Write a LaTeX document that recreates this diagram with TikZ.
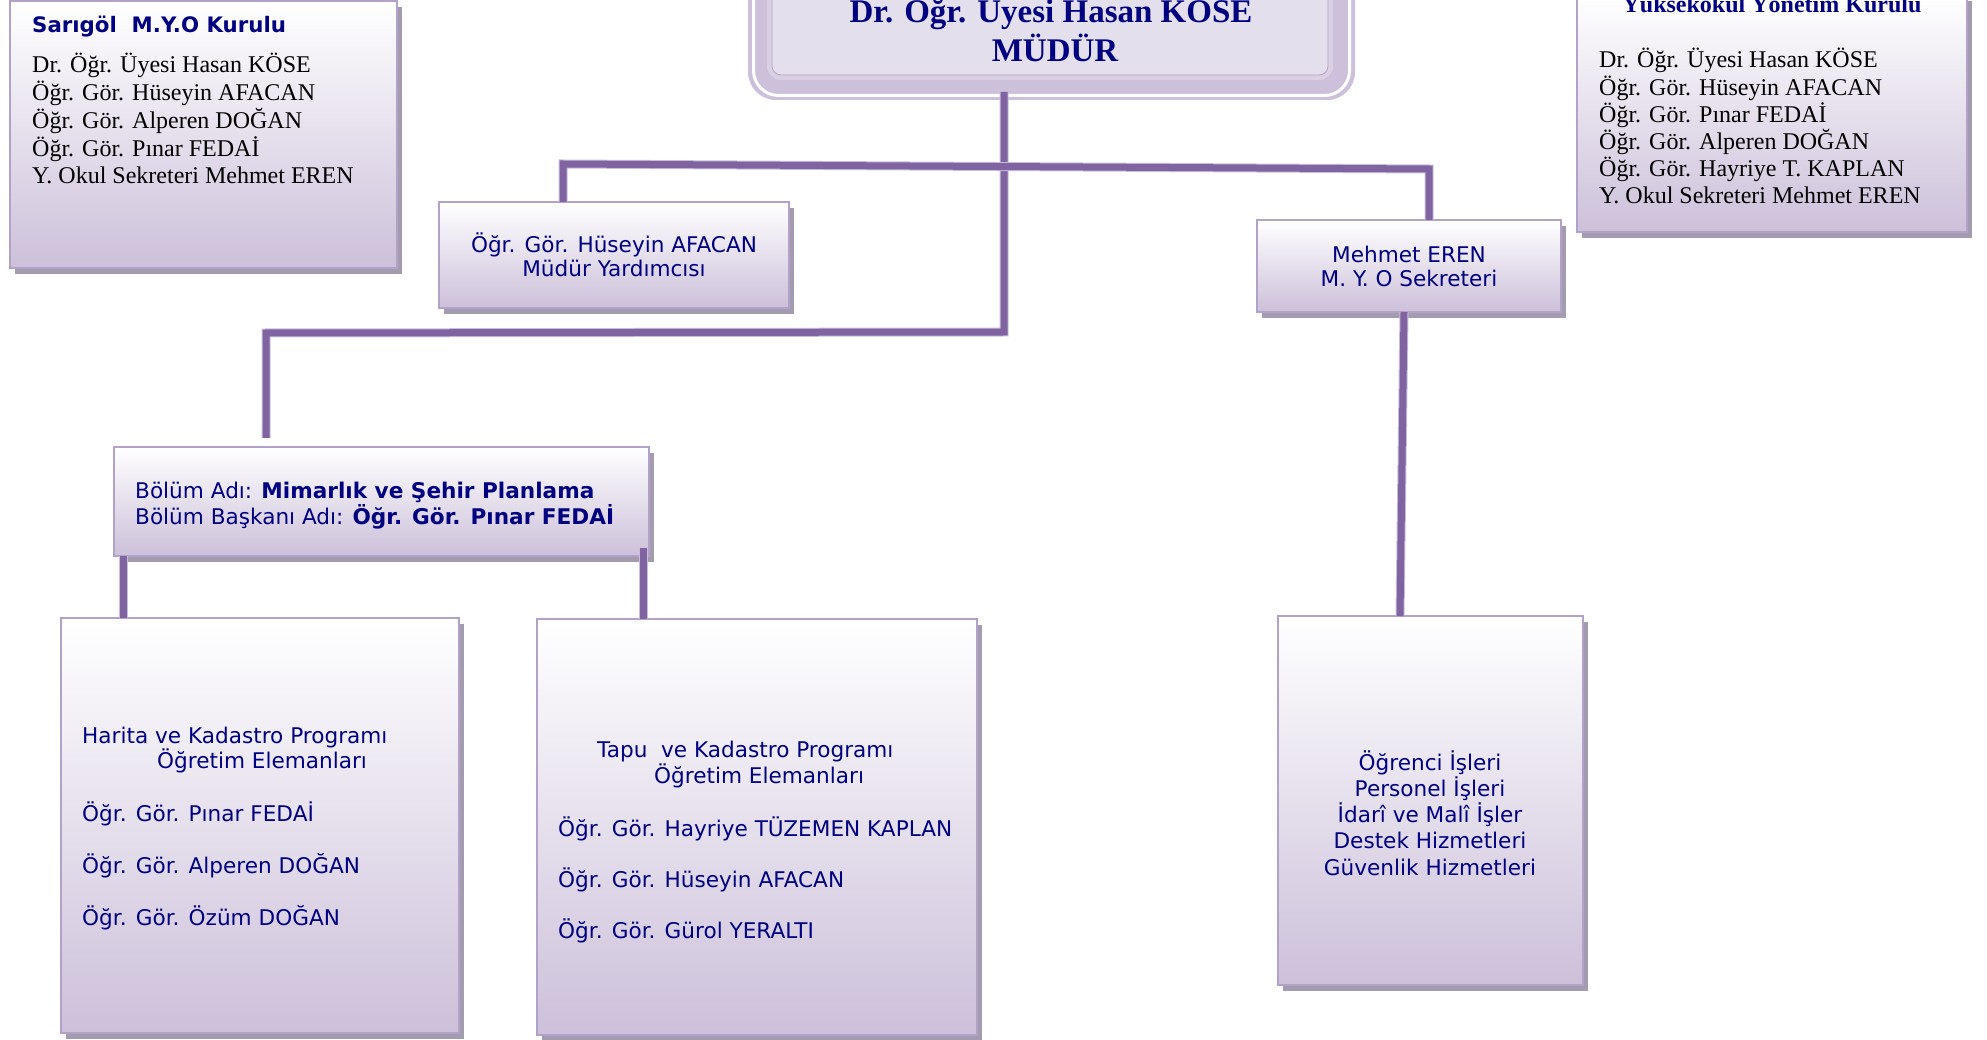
\documentclass[tikz,border=0pt]{standalone}
\usepackage{fontspec}
\setmainfont{Liberation Serif}
\newfontfamily\vfont{DejaVu Sans}
\usetikzlibrary{shadows}
\definecolor{txtblue}{HTML}{000080}
\definecolor{linec}{HTML}{8064A2}
\definecolor{lineedge}{HTML}{C9BEDA}
\definecolor{boxedge}{HTML}{B3A2C7}
\definecolor{boxbot}{HTML}{CCC0DA}
\definecolor{shadowc}{HTML}{A39BB0}
\definecolor{band}{HTML}{CCC0DA}
\definecolor{bandlight}{HTML}{D9D0E4}
\definecolor{mfill}{HTML}{E4DFEC}
\tikzset{
  box/.style={draw=boxedge, line width=2.5pt, top color=white, bottom color=boxbot,
    anchor=north west, inner sep=0pt, outer sep=0pt,
    drop shadow={shadow xshift=5pt, shadow yshift=-6pt, fill=shadowc, opacity=1}},
  sansT/.style={font=\vfont\fontsize{21.6}{26}\selectfont, text=txtblue, inner sep=0pt, anchor=base west},
  sansC/.style={sansT, anchor=base},
  sansB/.style={font=\vfont\bfseries\fontsize{21.3}{26}\selectfont, text=txtblue, inner sep=0pt, anchor=base west},
  serifT/.style={font=\fontsize{24}{28}\selectfont, text=black, inner sep=0pt, anchor=base west},
  serifB/.style={font=\bfseries\fontsize{24}{28}\selectfont, text=txtblue, inner sep=0pt, anchor=base},
  headT/.style={font=\bfseries\fontsize{33}{39}\selectfont, text=txtblue, inner sep=0pt, anchor=base},
  conn/.style={draw=linec, line width=7pt, preaction={draw=lineedge, line width=9pt}},
}
\begin{document}
\begin{tikzpicture}[x=1pt, y=-1pt]
\useasboundingbox (0,0) rectangle (1987,1040);
\fill[white] (0,0) rectangle (1987,1040);

% ---------- junction coordinates ----------
\coordinate (m0) at (1004,92);
\coordinate (m2) at (1004,332);
\coordinate (jL) at (563,164);
\coordinate (jR) at (1429,169);
\coordinate (kL) at (266,333);
\coordinate (kE) at (266,438);
\coordinate (bl) at (123,556);
\coordinate (br) at (643,548);
\coordinate (es) at (1404,312);
\coordinate (ee) at (1400,616);

% ---------- Müdür box ----------
\node[fill=band, rounded corners=28pt, minimum width=607pt, minimum height=140pt,
      anchor=south west, inner sep=0pt, outer sep=0pt] (mudur) at (748,100) {};
\draw[white, line width=3pt, rounded corners=25pt] (753.5,-45) rectangle (1349.5,95.5);
\fill[bandlight, rounded corners=14pt] (767,-45) rectangle (1333,80);
\fill[mfill, rounded corners=9pt] (772,-45) rectangle (1328,75);
\draw[boxedge, line width=0.8pt, rounded corners=9pt] (772,-45) rectangle (1328,75);
\node[headT] (h1) at (1051,23) {Dr. Öğr. Üyesi Hasan KÖSE};
\node[headT] (h2) at (1055,62) {MÜDÜR};

\draw[conn] (m0) -- (m2) -- (kL) -- (kE);

% ---------- boxes ----------
\node[box, minimum width=387pt, minimum height=267pt] (kurul) at (10,1) {};
\node[box, minimum width=390pt, minimum height=237pt] (ykurul) at (1577,-5) {};
\node[box, minimum width=350pt, minimum height=106pt] (afacan) at (439,202) {};
\node[box, minimum width=304pt, minimum height=92pt] (eren) at (1257,220) {};
\node[box, minimum width=535pt, minimum height=109pt] (bolum) at (114,447) {};
\node[box, minimum width=398pt, minimum height=415pt] (harita) at (61,618) {};
\node[box, minimum width=440pt, minimum height=416pt] (tapu) at (537,619) {};
\node[box, minimum width=305pt, minimum height=369pt] (birim) at (1278,616) {};

% connectors touching boxes
\draw[conn] (jL |- afacan.north) -- (jL) -- (jR) -- (jR |- eren.north);
\draw[conn] (es) -- (ee);
\draw[conn] (bl) -- (bl |- harita.north);
\draw[conn] (br) -- (br |- tapu.north);

% ---------- texts ----------
\node[sansB] (k0) at (32,33) {Sarıgöl~~M.Y.O Kurulu};
\node[serifT] (k1) at (32,73) {Dr. Öğr. Üyesi Hasan KÖSE};
\node[serifT] (k2) at (32,100.75) {Öğr. Gör. Hüseyin AFACAN};
\node[serifT] (k3) at (32,128.5) {Öğr. Gör. Alperen DOĞAN};
\node[serifT] (k4) at (32,156.25) {Öğr. Gör. Pınar FEDAİ};
\node[serifT] (k5) at (32,184) {Y. Okul Sekreteri Mehmet EREN};

\node[serifB] (y0) at (1772,13) {Yüksekokul Yönetim Kurulu};
\node[serifT] (y1) at (1599,68) {Dr. Öğr. Üyesi Hasan KÖSE};
\node[serifT] (y2) at (1599,95.2) {Öğr. Gör. Hüseyin AFACAN};
\node[serifT] (y3) at (1599,122.4) {Öğr. Gör. Pınar FEDAİ};
\node[serifT] (y4) at (1599,149.6) {Öğr. Gör. Alperen DOĞAN};
\node[serifT] (y5) at (1599,176.8) {Öğr. Gör. Hayriye T. KAPLAN};
\node[serifT] (y6) at (1599,204) {Y. Okul Sekreteri Mehmet EREN};

\node[sansC] (a1) at (614,253) {Öğr. Gör. Hüseyin AFACAN};
\node[sansC] (a2) at (614,277) {Müdür Yardımcısı};

\node[sansC] (e1) at (1409,263) {Mehmet EREN};
\node[sansC] (e2) at (1409,287) {M. Y. O Sekreteri};

\node[sansT] (b1) at (135,498) {Bölüm Adı: \textbf{Mimarlık ve Şehir Planlama}};
\node[sansT] (b2) at (135,524) {Bölüm Başkanı Adı: \textbf{Öğr. Gör. Pınar FEDAİ}};

\node[sansT] (p1) at (82,743) {Harita ve Kadastro Programı};
\node[sansT] (p2) at (157,768) {Öğretim Elemanları};
\node[sansT] (p3) at (82,821) {Öğr. Gör. Pınar FEDAİ};
\node[sansT] (p4) at (82,873) {Öğr. Gör. Alperen DOĞAN};
\node[sansT] (p5) at (82,925) {Öğr. Gör. Özüm DOĞAN};

\node[sansT] (t1) at (597,757) {Tapu~~ve Kadastro Programı};
\node[sansT] (t2) at (654,783) {Öğretim Elemanları};
\node[sansT] (t3) at (558,836) {Öğr. Gör. Hayriye TÜZEMEN KAPLAN};
\node[sansT] (t4) at (558,887) {Öğr. Gör. Hüseyin AFACAN};
\node[sansT] (t5) at (558,938) {Öğr. Gör. Gürol YERALTI};

\node[sansC] (s1) at (1430,770) {Öğrenci İşleri};
\node[sansC] (s2) at (1430,796) {Personel İşleri};
\node[sansC] (s3) at (1430,822) {İdarî ve Malî İşler};
\node[sansC] (s4) at (1430,848.5) {Destek Hizmetleri};
\node[sansC] (s5) at (1430,875) {Güvenlik Hizmetleri};
\end{tikzpicture}
\end{document}
